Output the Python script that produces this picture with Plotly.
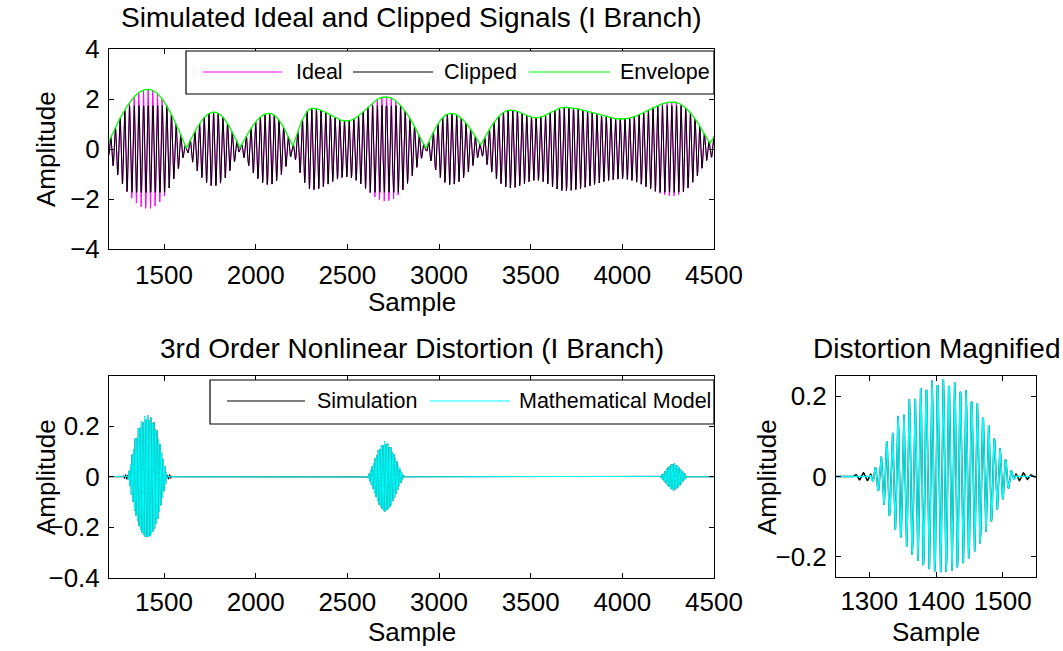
import numpy as np
import plotly.graph_objects as go

W, H = 1063, 651
FONT = "Liberation Sans, Arial, sans-serif"

# ---------------- data ----------------
# Top panel: envelope key points (sample, amplitude, kind: p=peak, c=cusp min, s=smooth min)
env_x = [1180, 1413, 1622, 1772, 1914, 2073, 2203, 2308, 2497, 2708, 2928, 3063,
         3227, 3390, 3531, 3684, 3999, 4276, 4478, 4560]
env_y = [0.00, 2.39, 0.03, 1.48, 0.05, 1.43, 0.12, 1.63, 1.12, 2.09, 0.03, 1.43,
         0.16, 1.56, 1.25, 1.67, 1.20, 1.88, 0.23, 0.90]
env_kind = ["c", "p", "c", "p", "c", "p", "c", "p", "s", "p", "c", "p",
            "c", "p", "s", "p", "s", "p", "c", "p"]
carrier_period = 25.5      # samples per cycle of the I-branch carrier
carrier_peak_at = 1413     # a carrier crest lines up with the first envelope peak
clip_level = 1.73          # clipping amplitude of the clipped signal

# Bottom panels: 3rd-order distortion bursts (model envelope key points)
burst_x = [1300, 1309, 1317, 1325, 1334, 1342, 1351, 1360, 1376, 1395, 1410, 1425,
           1445, 1462, 1479, 1497, 1505, 1514, 1522,
           2610, 2630, 2650, 2675, 2705, 2735, 2760, 2785, 2810,
           4205, 4230, 4255, 4280, 4305, 4330, 4355]
burst_y = [0.0, 0.023, 0.049, 0.085, 0.112, 0.149, 0.161, 0.192, 0.219, 0.240, 0.243, 0.238,
           0.215, 0.182, 0.128, 0.067, 0.042, 0.012, 0.0,
           0.0, 0.030, 0.070, 0.115, 0.142, 0.120, 0.080, 0.035, 0.0,
           0.0, 0.020, 0.042, 0.055, 0.042, 0.020, 0.0]
# extra small ripple only in the simulation, at the burst edges
ripple_x = [1270, 1285, 1298, 1306, 1516, 1524, 1535, 1550]
ripple_y = [0.0, 0.008, 0.010, 0.0, 0.0, 0.010, 0.008, 0.0]
dist_period = 8.5          # third harmonic of the carrier
dist_peak_at = 1411

top_xticks = [1500, 2000, 2500, 3000, 3500, 4000, 4500]
top_yticks = [-4, -2, 0, 2, 4]
bot_yticks = [-0.4, -0.2, 0, 0.2]
mag_xticks = [1300, 1400, 1500]
mag_yticks = [-0.2, 0, 0.2]

# ---------------- build the signals ----------------
n = np.arange(1150, 4561, dtype=float)


def envelope(samples, xs, ys, kinds):
    out = np.zeros_like(samples)
    for i in range(len(xs) - 1):
        m = (samples >= xs[i]) & (samples <= xs[i + 1])
        t = (samples[m] - xs[i]) / (xs[i + 1] - xs[i])
        k0, k1 = kinds[i], kinds[i + 1]
        if k0 == "c" and k1 != "c":
            f = np.sin(np.pi * t / 2)
        elif k1 == "c" and k0 != "c":
            f = 1 - np.cos(np.pi * t / 2)
        else:
            f = (1 - np.cos(np.pi * t)) / 2
        out[m] = ys[i] + (ys[i + 1] - ys[i]) * f
    return out


env = envelope(n, env_x, env_y, env_kind)
ideal = env * np.cos(2 * np.pi * (n - carrier_peak_at) / carrier_period)
clipped = np.clip(ideal, -clip_level, clip_level)

bx = np.array(burst_x, float)
by = np.array(burst_y, float)
burst_env = np.zeros_like(n)
for seg in (slice(0, 19), slice(19, 28), slice(28, 35)):
    sx, sy = bx[seg], by[seg]
    m = (n >= sx[0]) & (n <= sx[-1])
    burst_env[m] = np.interp(n[m], sx, sy)
carrier3 = np.cos(2 * np.pi * (n - dist_peak_at) / dist_period)
model = burst_env * carrier3
rip_env = np.interp(n, ripple_x, ripple_y, left=0, right=0)
simulation = model + rip_env * np.cos(2 * np.pi * (n - dist_peak_at) / 12.0)

# ---------------- figure ----------------
fig = go.Figure()
fig.add_trace(go.Scatter(x=n, y=ideal, mode="lines", line=dict(color="#FF00FF", width=1),
                         name="Ideal", xaxis="x", yaxis="y", showlegend=False))
fig.add_trace(go.Scatter(x=n, y=clipped, mode="lines", line=dict(color="#000000", width=1),
                         name="Clipped", xaxis="x", yaxis="y", showlegend=False))
fig.add_trace(go.Scatter(x=n, y=env, mode="lines", line=dict(color="#00FF00", width=1.3),
                         name="Envelope", xaxis="x", yaxis="y", showlegend=False))

fig.add_trace(go.Scatter(x=n, y=simulation, mode="lines", line=dict(color="#000000", width=1),
                         name="Simulation", xaxis="x2", yaxis="y2", showlegend=False))
fig.add_trace(go.Scatter(x=n, y=model, mode="lines", line=dict(color="#00FFFF", width=1),
                         name="Mathematical Model", xaxis="x2", yaxis="y2", showlegend=False))

fig.add_trace(go.Scatter(x=n, y=simulation, mode="lines", line=dict(color="#000000", width=1.5),
                         name="Simulation", xaxis="x3", yaxis="y3", showlegend=False))
fig.add_trace(go.Scatter(x=n, y=model, mode="lines", line=dict(color="#00FFFF", width=1.5),
                         name="Mathematical Model", xaxis="x3", yaxis="y3", showlegend=False))


def px_x(p):
    return p / W


def px_y(p):
    return 1 - p / H


TICK = 26
axis_common = dict(showline=True, linecolor="black", linewidth=1, mirror="ticks",
                   ticks="inside", ticklen=5, tickcolor="black", showgrid=False,
                   zeroline=False, automargin=False,
                   tickfont=dict(family=FONT, size=TICK, color="black"))


def fmt(v):
    s = ("%g" % v)
    return s.replace("-", "\u2212")


L, R = 109, 714
fig.update_layout(
    width=W, height=H, margin=dict(l=0, r=0, t=0, b=0, pad=0, autoexpand=False),
    paper_bgcolor="white", plot_bgcolor="white",
    font=dict(family=FONT, size=TICK, color="black"),
    xaxis=dict(domain=[px_x(L), px_x(R)], range=[1200, 4500], anchor="y",
               tickvals=top_xticks, ticktext=[fmt(v) for v in top_xticks],
               ticklabelstandoff=3, **axis_common),
    yaxis=dict(domain=[px_y(249), px_y(49)], range=[-4, 4], anchor="x",
               tickvals=top_yticks, ticktext=[fmt(v) for v in top_yticks],
               ticklabelstandoff=3, **axis_common),
    xaxis2=dict(domain=[px_x(L), px_x(R)], range=[1200, 4500], anchor="y2",
                tickvals=top_xticks, ticktext=[fmt(v) for v in top_xticks],
                ticklabelstandoff=1, **axis_common),
    yaxis2=dict(domain=[px_y(578), px_y(376)], range=[-0.4, 0.398], anchor="x2",
                tickvals=bot_yticks, ticktext=[fmt(v) for v in bot_yticks],
                ticklabelstandoff=3, **axis_common),
    xaxis3=dict(domain=[px_x(836), px_x(1036)], range=[1250, 1550], anchor="y3",
                tickvals=mag_xticks, ticktext=[fmt(v) for v in mag_xticks],
                ticklabelstandoff=1, **axis_common),
    yaxis3=dict(domain=[px_y(577), px_y(376)], range=[-0.25, 0.25], anchor="x3",
                tickvals=mag_yticks, ticktext=[fmt(v) for v in mag_yticks],
                ticklabelstandoff=3, **axis_common),
)

ann = []


def text(x, y, s, size=TICK, angle=0, xanchor="center"):
    ann.append(dict(x=px_x(x), y=px_y(y), xref="paper", yref="paper", text=s,
                    showarrow=False, xanchor=xanchor, yanchor="middle", textangle=angle,
                    font=dict(family=FONT, size=size, color="black")))


TITLE = 28
text((L + R) / 2, 18, "Simulated Ideal and Clipped Signals (I Branch)", size=TITLE)
text((L + R) / 2, 348, "3rd Order Nonlinear Distortion (I Branch)", size=TITLE)
text(936, 348, "Distortion Magnified", size=TITLE)
text((L + R) / 2, 302, "Sample")
text((L + R) / 2, 632, "Sample")
text(936, 632, "Sample")
text(46, 149, "Amplitude", angle=-90)
text(46, 477, "Amplitude", angle=-90)
text(767, 477, "Amplitude", angle=-90)

shapes = []


def legend_box(x0, y0, x1, y1):
    shapes.append(dict(type="rect", xref="paper", yref="paper", x0=px_x(x0), x1=px_x(x1),
                       y0=px_y(y1), y1=px_y(y0), line=dict(color="black", width=1.2),
                       fillcolor="white", layer="above"))


def legend_line(x0, x1, y, color):
    shapes.append(dict(type="line", xref="paper", yref="paper", x0=px_x(x0), x1=px_x(x1),
                       y0=px_y(y), y1=px_y(y), line=dict(color=color, width=1.2), layer="above"))


LEG = 21.5
legend_box(186, 51, 714, 94)
legend_line(203, 282, 72, "#FF00FF")
text(294, 72, "Ideal", size=LEG, xanchor="left")
legend_line(353, 433, 72, "#000000")
text(442, 72, "Clipped", size=LEG, xanchor="left")
legend_line(529, 610, 72, "#00FF00")
text(618, 72, "Envelope", size=LEG, xanchor="left")

legend_box(210, 380, 714, 424)
legend_line(227, 305, 401, "#000000")
text(315, 401, "Simulation", size=LEG, xanchor="left")
legend_line(430, 510, 401, "#00FFFF")
text(517, 401, "Mathematical Model", size=LEG, xanchor="left")

fig.update_layout(annotations=ann, shapes=shapes)
fig.write_html("out.html", config={"responsive": False})
